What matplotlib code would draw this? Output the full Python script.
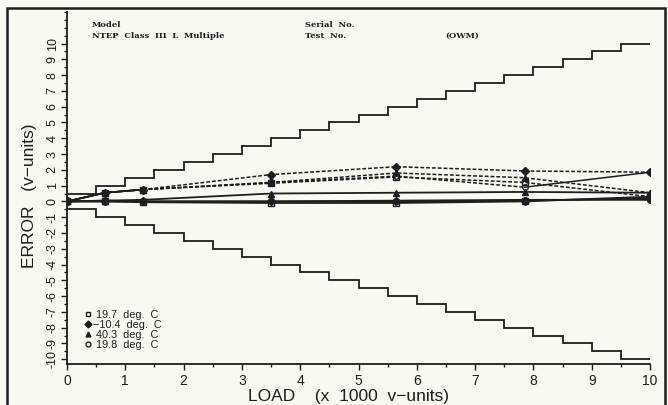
import numpy as np
import matplotlib
matplotlib.use("Agg")
from matplotlib import pyplot as plt
from matplotlib.patches import Rectangle

# load points (x 1000 v-units)
loads = [0, 0.65, 1.3, 3.5, 5.65, 7.85, 10]

# decreasing-load runs (dashed)
dn_minus104 = [0, 0.55, 0.75, 1.7, 2.2, 1.93, 1.85]
dn_403 = [0, 0.55, 0.75, 1.2, 1.8, 1.5, 0.55]
dn_197 = [0, 0.55, 0.75, 1.15, 1.55, 1.2, 0.3]
dn_198 = [0, 0.55, 0.75, 1.2, 1.6, 0.9, 1.85]

# increasing-load runs (solid)
up_403 = [0, 0.05, 0.1, 0.5, 0.55, 0.6, 0.55]
up_197 = [0, 0.0, -0.05, -0.1, -0.1, 0.0, 0.3]
up_198 = [0, 0.0, 0.0, 0.0, 0.05, 0.1, 0.1]
up_minus104 = [0, 0.05, 0.0, 0.0, 0.0, 0.05, 0.2]

# tolerance envelope
tol_edges = [0, 0.5, 1, 1.5, 2, 2.5, 3, 3.5, 4, 4.5, 5,
             5.5, 6, 6.5, 7, 7.5, 8, 8.5, 9, 9.5, 10]
tol_upper = [0.5, 1, 1.5, 2, 2.5, 3, 3.5, 4, 4.5, 5,
             5.5, 6, 6.5, 7, 7.5, 8, 8.5, 9, 9.5, 10]
tol_lower = [-0.5, -1, -1.5, -2, -2.5, -3, -3.5, -4, -4.5, -5,
             -5.5, -6, -6.5, -7, -7.5, -8, -8.5, -9, -9.5, -10]

legend_labels = [" 19.7  deg.  C", "\u221210.4  deg.  C", " 40.3  deg.  C", " 19.8  deg.  C"]

ink = "#1e1e1e"
bg = "#f9f8f1"
plt.rcParams['font.family'] = ['Liberation Sans', 'DejaVu Sans']

fig = plt.figure(figsize=(6.68, 4.05), dpi=100, facecolor=bg)
ax = fig.add_axes([67/668, 1-364/405, 583/668, 352/405], facecolor=bg)

# outer frame
fig.patches.append(Rectangle((7/668, -0.02), 658/668, 1.0-8/405+0.02,
                             transform=fig.transFigure, fill=False,
                             edgecolor=ink, linewidth=1.8))

ax.stairs(tol_upper, tol_edges, color=ink, linewidth=1.3, baseline=None)
ax.stairs(tol_lower, tol_edges, color=ink, linewidth=1.3, baseline=None)

dash = (0, (2.5, 1.3))
mk = dict(markersize=4, markeredgecolor=ink, markeredgewidth=1.0)
down_runs = [(dn_minus104, "D", ink), (dn_403, "^", ink), (dn_197, "s", "none"), (dn_198, "o", "none")]
for i, (vals, m, fc) in enumerate(down_runs):
    # solid start up to the third load, dashed afterwards
    ax.plot(loads[:3], vals[:3], color=ink, lw=1.2, ls="-")
    if i == 3:
        ax.plot(loads[2:-1], vals[2:-1], color=ink, lw=1.1, ls=dash)
        ax.plot(loads[-2:], vals[-2:], color=ink, lw=1.1, ls="-")
    else:
        ax.plot(loads[2:], vals[2:], color=ink, lw=1.1, ls=dash)
    ax.plot(loads, vals, ls="none", marker=m, markerfacecolor=fc, **mk)

up_runs = [(up_403, "^", ink), (up_197, "s", "none"), (up_198, "o", "none"), (up_minus104, "D", ink)]
for vals, m, fc in up_runs:
    ax.plot(loads, vals, color=ink, lw=1.3, marker=m, markerfacecolor=fc, **mk)

ax.set_xlim(0, 10)
ax.set_ylim(-10.3, 12)
for s in ["top", "right"]:
    ax.spines[s].set_visible(False)
for s in ["left", "bottom"]:
    ax.spines[s].set_linewidth(1.3)
    ax.spines[s].set_color(ink)

ax.set_xticks(np.arange(0, 11, 1))
ax.set_xticks(np.arange(0, 10.5, 0.5), minor=True)
ax.set_yticks(np.arange(-10, 11, 1))
ax.set_yticks(np.arange(-10, 12.5, 0.5), minor=True)
ax.set_yticklabels([str(v) for v in range(-10, 11)], rotation=90, va="center")
ax.tick_params(axis="both", which="major", direction="out", length=4, width=1, colors=ink)
ax.tick_params(axis="x", which="major", labelsize=10)
ax.tick_params(axis="y", which="major", labelsize=9, pad=2)
ax.tick_params(axis="both", which="minor", direction="out", length=2.5, width=1, colors=ink)

fig.text(30/668, 1-196/405, "ERROR   (v\u2212units)", rotation=90, ha="center", va="center",
         fontsize=12.5, color=ink)
fig.text(348/668, 1-396/405, "LOAD    (x  1000  v\u2212units)", ha="center", va="center",
         fontsize=12.5, color=ink)

hdr = dict(family="DejaVu Serif", fontsize=6, fontweight="bold", color=ink, va="center")
fig.text(92/668, 1-25/405, "Model", **hdr)
fig.text(92/668, 1-36/405, "NTEP  Class  III  L  Multiple", **hdr)
fig.text(305/668, 1-25/405, "Serial  No.", **hdr)
fig.text(305/668, 1-36/405, "Test  No.", **hdr)
fig.text(445/668, 1-36/405, "(OWM)", **hdr)

# legend
handles = []
for m, fc in [("s", "none"), ("D", ink), ("^", ink), ("o", "none")]:
    h, = ax.plot([], [], ls="none", marker=m, markerfacecolor=fc, markersize=3.5,
                 markeredgecolor=ink, markeredgewidth=1.0)
    handles.append(h)
ax.legend(handles, legend_labels, loc="lower left", bbox_to_anchor=(0.03, 0.04),
          frameon=False, fontsize=7.8, handlelength=0.6, handletextpad=0.2,
          labelspacing=0.0, borderpad=0, borderaxespad=0, labelcolor=ink)

fig.savefig("out.png", dpi=100, facecolor=bg)
